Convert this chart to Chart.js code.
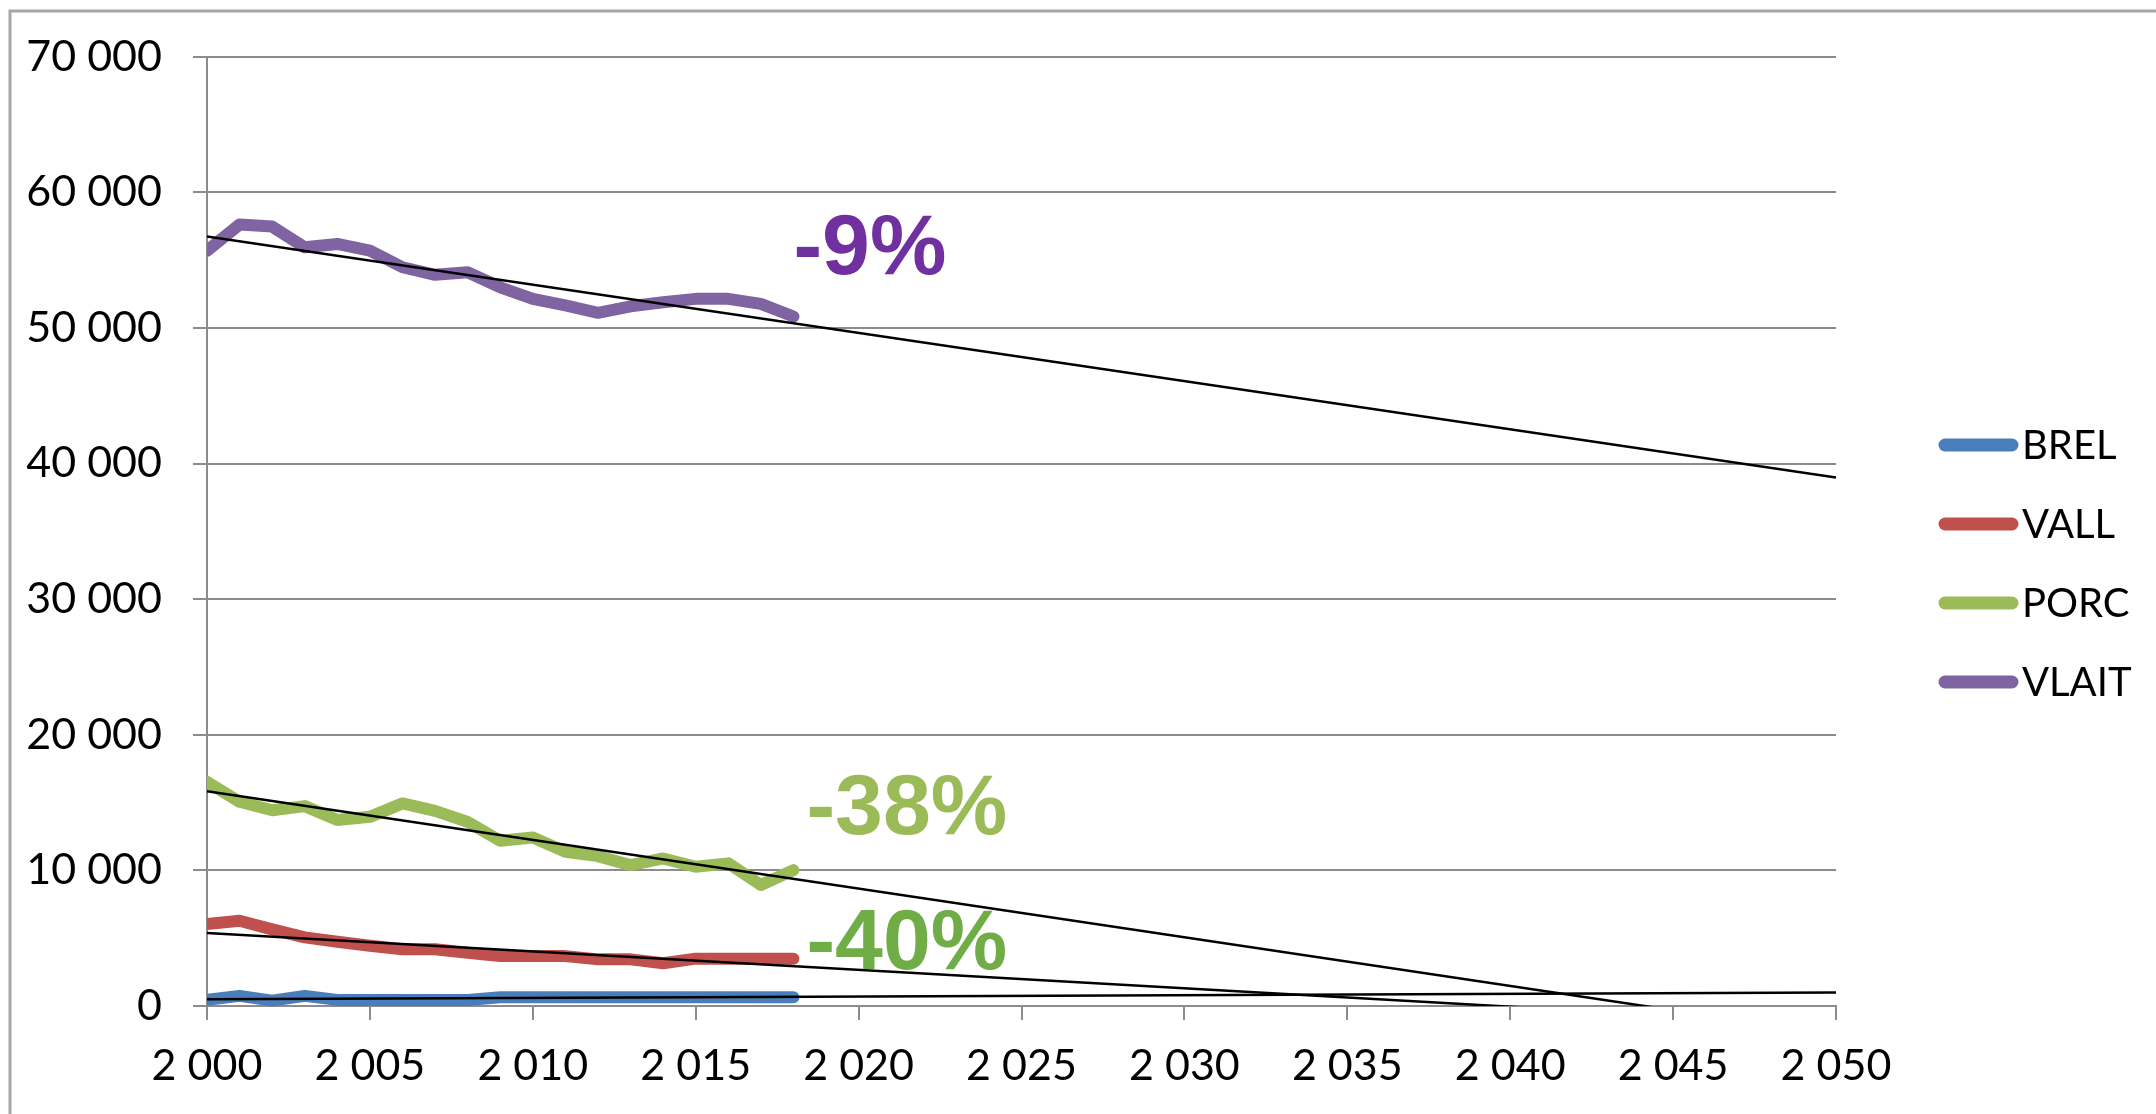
<!DOCTYPE html>
<html>
<head>
<meta charset="utf-8">
<script src="https://cdn.jsdelivr.net/npm/chart.js@4.4.1/dist/chart.umd.min.js"></script>
<style>
  html, body { margin: 0; padding: 0; background: #fff; }
  #wrap { position: relative; width: 2156px; height: 1114px; }
</style>
</head>
<body>
<div id="wrap"><canvas id="myChart"></canvas></div>
<script>
// Data
const years = [2000, 2001, 2002, 2003, 2004, 2005, 2006, 2007, 2008, 2009,
               2010, 2011, 2012, 2013, 2014, 2015, 2016, 2017, 2018];
const brel  = [450, 750, 400, 750, 450, 450, 450, 450, 450, 650,
               650, 650, 650, 650, 650, 650, 650, 650, 650];
const vall  = [6040, 6290, 5650, 5060, 4740, 4440, 4180, 4180, 3930, 3680,
               3680, 3680, 3440, 3440, 3150, 3490, 3490, 3490, 3490];
const porc  = [16530, 15060, 14440, 14740, 13710, 13950, 14940, 14390, 13580, 12180,
               12430, 11370, 11050, 10390, 10880, 10270, 10520, 8920, 10020];
const vlait = [55700, 57630, 57480, 55950, 56200, 55700, 54480, 53920, 54110, 53000,
               52150, 51660, 51120, 51600, 51900, 52150, 52150, 51780, 50850];

// trend lines: value at 2000 and at 2050
const trendYears = [2000, 2050];
const brelTrend  = [490, 1000];
const vallTrend  = [5380, -1410];
const porcTrend  = [15840, -2110];
const vlaitTrend = [56740, 38980];

const seriesNames  = ['BREL', 'VALL', 'PORC', 'VLAIT'];
const seriesColors = ['#4A7EBB', '#C0504D', '#9BBB59', '#8064A2'];

const xTicks = [2000, 2005, 2010, 2015, 2020, 2025, 2030, 2035, 2040, 2045, 2050];

// labels drawn next to the end of the series
const notes = [
  { text: '-9%',  color: '#7030A0', x: 2018.0, y: 55700 },
  { text: '-38%', color: '#9BBB59', x: 2018.4, y: 14400 },
  { text: '-40%', color: '#70AD47', x: 2018.4, y: 4500 }
];

const pts = (xs, ys) => xs.map((x, i) => ({ x: x, y: ys[i] }));
const spaced = v => String(Math.round(v)).replace(/\B(?=(\d{3})+(?!\d))/g, ' ');

const series = [brel, vall, porc, vlait];
const trends = [brelTrend, vallTrend, porcTrend, vlaitTrend];

const datasets = [];
series.forEach((s, i) => {
  datasets.push({
    label: seriesNames[i],
    data: pts(years, s),
    borderColor: seriesColors[i],
    borderWidth: 12,
    borderCapStyle: 'round',
    borderJoinStyle: 'round',
    pointRadius: 0,
    order: 2,
    clip: { left: 0, top: 0, right: false, bottom: 8 }
  });
});
trends.forEach((t, i) => {
  datasets.push({
    label: seriesNames[i] + ' trend',
    data: pts(trendYears, t),
    borderColor: '#000',
    borderWidth: 2.5,
    pointRadius: 0,
    order: 1,
    clip: 0
  });
});

// light frame round the chart
const framePlugin = {
  id: 'frame',
  beforeDraw(chart) {
    const c = chart.ctx;
    c.save();
    c.strokeStyle = '#a6a6a6';
    c.lineWidth = 3;
    c.beginPath();
    c.moveTo(10, chart.height);
    c.lineTo(10, 11);
    c.lineTo(chart.width, 11);
    c.stroke();
    c.restore();
  }
};

const notesPlugin = {
  id: 'notes',
  afterDatasetsDraw(chart) {
    const c = chart.ctx;
    const sx = chart.scales.x, sy = chart.scales.y;
    c.save();
    c.font = 'bold 86px "Liberation Sans", Arial, sans-serif';
    c.textAlign = 'left';
    c.textBaseline = 'middle';
    notes.forEach(n => {
      c.fillStyle = n.color;
      c.fillText(n.text, sx.getPixelForValue(n.x), sy.getPixelForValue(n.y));
    });
    c.restore();
  }
};

// legend on the right, thick rounded swatches
const legendPlugin = {
  id: 'sideLegend',
  afterDraw(chart) {
    const c = chart.ctx;
    c.save();
    c.font = '40px Lato, "Open Sans", sans-serif';
    c.textBaseline = 'middle';
    c.lineCap = 'round';
    seriesNames.forEach((name, i) => {
      const y = 445 + i * 79;
      c.strokeStyle = seriesColors[i];
      c.lineWidth = 13;
      c.beginPath();
      c.moveTo(1945, y);
      c.lineTo(2012, y);
      c.stroke();
      c.fillStyle = '#000';
      c.fillText(name, 2022, y + 1);
    });
    c.restore();
  }
};

const ctx = document.getElementById('myChart');
new Chart(ctx, {
  type: 'line',
  data: { datasets: datasets },
  options: {
    responsive: true,
    maintainAspectRatio: false,
    animation: false,
    layout: { padding: { left: 0, right: 320, top: 56, bottom: 0 } },
    plugins: {
      legend: { display: false },
      tooltip: { enabled: false }
    },
    scales: {
      x: {
        type: 'linear',
        min: 2000,
        max: 2050,
        afterBuildTicks: scale => { scale.ticks = xTicks.map(v => ({ value: v })); },
        afterFit: scale => { scale.height = 108; },
        ticks: {
          color: '#000',
          font: { family: 'Lato', size: 43 },
          padding: 20,
          maxRotation: 0,
          autoSkip: false,
          callback: v => spaced(v)
        },
        grid: { drawOnChartArea: false, drawTicks: true, tickLength: 14, color: '#8c8c8c', lineWidth: 2 },
        border: { color: '#8c8c8c', width: 2 }
      },
      y: {
        min: 0,
        max: 70000,
        afterFit: scale => { scale.width = 207; },
        ticks: {
          stepSize: 10000,
          color: '#000',
          font: { family: 'Lato', size: 43 },
          padding: 31,
          callback: v => spaced(v)
        },
        grid: { color: '#8c8c8c', lineWidth: 2, tickLength: 14 },
        border: { color: '#8c8c8c', width: 2 }
      }
    }
  },
  plugins: [framePlugin, notesPlugin, legendPlugin]
});
</script>
</body>
</html>
